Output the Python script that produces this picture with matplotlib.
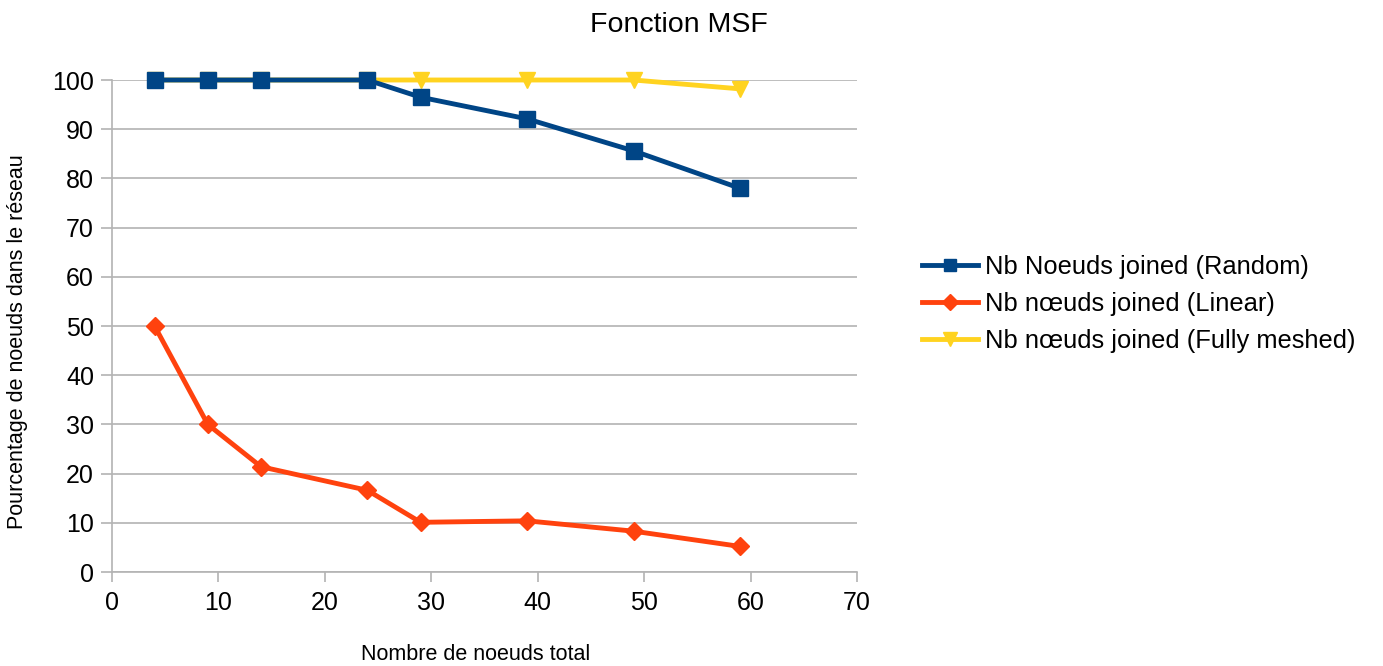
import matplotlib
matplotlib.use("Agg")
import matplotlib.pyplot as plt

plt.rcParams['font.family'] = ['Liberation Sans', 'DejaVu Sans']

x_nodes = [4, 9, 14, 24, 29, 39, 49, 59]
random_vals = [100, 100, 100, 100, 96.5, 92.1, 85.6, 78.0]
linear_vals = [50, 30, 21.4, 16.6, 10.1, 10.4, 8.3, 5.2]
meshed_vals = [100, 100, 100, 100, 100, 100, 100, 98.2]

labels = ["Nb Noeuds joined (Random)",
          "Nb nœuds joined (Linear)",
          "Nb nœuds joined (Fully meshed)"]
x_ticks = [0, 10, 20, 30, 40, 50, 60, 70]
y_ticks = [0, 10, 20, 30, 40, 50, 60, 70, 80, 90, 100]

fig = plt.figure(figsize=(13.83, 6.66), dpi=100)
ax = fig.add_axes([112/1383, 1-572/666, (857-112)/1383, (572-80)/666])

l1, = ax.plot(x_nodes, random_vals, color='#004586', lw=3.5, marker='s', ms=11, zorder=4,
              label=labels[0], clip_on=False)
l2, = ax.plot(x_nodes, linear_vals, color='#ff420e', lw=3.5, marker='D', ms=9, zorder=3,
              label=labels[1], clip_on=False)
l3, = ax.plot(x_nodes, meshed_vals, color='#ffd320', lw=3.5, marker='v', ms=12, zorder=2,
              label=labels[2], clip_on=False)

ax.set_xlim(0, 70)
ax.set_ylim(0, 100)
ax.set_xticks(x_ticks)
ax.set_yticks(y_ticks)
ax.grid(axis='y', color='#b3b3b3', lw=1.2)
ax.set_axisbelow(True)
for s in ['top', 'right']:
    ax.spines[s].set_visible(False)
for s in ['left', 'bottom']:
    ax.spines[s].set_color('#b3b3b3')
    ax.spines[s].set_linewidth(1.2)
ax.tick_params(axis='both', colors='#b3b3b3', labelcolor='black', labelsize=18, width=1.2)
ax.tick_params(axis='y', length=8, pad=5)
ax.tick_params(axis='x', length=7.5, pad=6)

fig.text(679/1383, 1-25/666, "Fonction MSF", ha='center', va='center', fontsize=20.5)
fig.text(476/1383, 1-655/666, "Nombre de noeuds total", ha='center', va='center', fontsize=15.5)
fig.text(18/1383, 1-342/666, "Pourcentage de noeuds dans le réseau", ha='center', va='center',
         fontsize=15.5, rotation=90)

fig.legend(handles=[l1, l2, l3], loc='center left', bbox_to_anchor=(922/1383, 1-304/666),
           frameon=False, fontsize=18.4, handlelength=2.2, handletextpad=0.27, labelspacing=0.5,
           markerscale=0.85, borderpad=0, borderaxespad=0)

fig.savefig("out.png", dpi=100)
